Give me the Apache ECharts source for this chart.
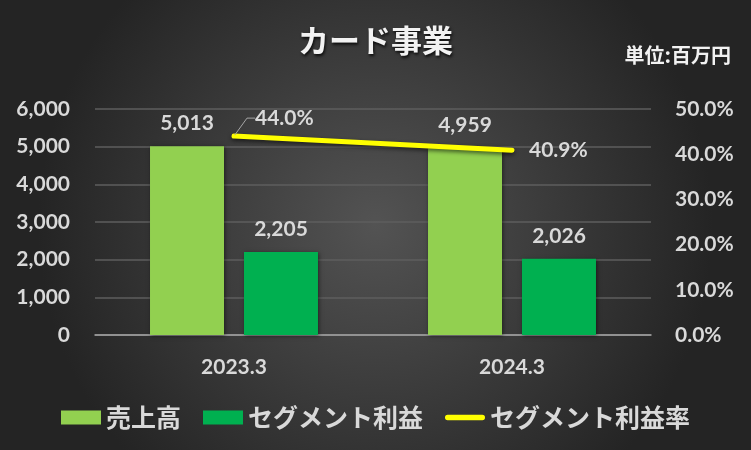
<!DOCTYPE html>
<html><head><meta charset="utf-8">
<script src="https://cdn.jsdelivr.net/npm/echarts@6/dist/echarts.min.js"></script>
<style>html,body{margin:0;padding:0;}#c{width:751px;height:450px;}</style>
</head><body><div id="c"></div>
<script>
const categories = ['2023.3', '2024.3'];
const sales = [5013, 4959];
const profit = [2205, 2026];
const margin = [44.0, 40.9];
const leftTicks = [0, 1000, 2000, 3000, 4000, 5000, 6000];
const rightTicks = [0, 10, 20, 30, 40, 50];

const numFont = 'Lato, "Noto Sans", sans-serif';
const jpFont = '"Noto Sans CJK JP", sans-serif';
const txt = '#D9D9D9';

const marginLabel = {show: true, position: 'right', distance: 16, color: txt, fontFamily: numFont, fontSize: 21, fontWeight: 'bold',
  formatter: p => p.value.toFixed(1) + '%'};

const chart = echarts.init(document.getElementById('c'));
chart.setOption({
  backgroundColor: {
    type: 'radial', x: 0.5, y: 0.5, r: 0.75,
    colorStops: [{offset: 0, color: '#535353'}, {offset: 1, color: '#242424'}]
  },
  animation: false,
  title: [{
    text: 'カード事業', left: 'center', top: 20,
    textStyle: {color: '#F2F2F2', fontFamily: jpFont, fontSize: 31, fontWeight: 'bold',
      textShadowColor: 'rgba(0,0,0,0.8)', textShadowBlur: 3, textShadowOffsetX: 1, textShadowOffsetY: 2}
  }, {
    text: '単位:百万円', right: 15, top: 40,
    textStyle: {color: '#F2F2F2', fontFamily: jpFont, fontSize: 20, fontWeight: 'bold'}
  }],
  legend: {
    bottom: 15, left: 'center', itemGap: 22, itemWidth: 40, itemHeight: 14,
    textStyle: {color: txt, fontFamily: jpFont, fontSize: 25, fontWeight: 'bold'},
    data: [
      {name: '売上高', icon: 'rect'},
      {name: 'セグメント利益', icon: 'rect'},
      {name: 'セグメント利益率', icon: 'path://M3,0 H42 A3,3 0 0 1 42,6 H3 A3,3 0 0 1 3,0 Z', itemStyle: {color: '#FFFF00'}}
    ]
  },
  grid: {left: 95, right: 100, top: 109, bottom: 115, containLabel: false},
  xAxis: {
    type: 'category', data: categories,
    axisLine: {lineStyle: {color: '#A6A6A6', width: 1.5}},
    axisTick: {show: false},
    axisLabel: {color: txt, fontFamily: numFont, fontSize: 21, fontWeight: 'bold', margin: 22}
  },
  yAxis: [{
    type: 'value', min: 0, max: 6000, interval: 1000,
    axisLine: {show: false}, axisTick: {show: false},
    splitLine: {lineStyle: {color: '#5E5E5E', width: 1.5}},
    axisLabel: {color: txt, fontFamily: numFont, fontSize: 21, fontWeight: 'bold', margin: 25,
      formatter: v => v.toLocaleString('en-US')}
  }, {
    type: 'value', min: 0, max: 50, interval: 10,
    axisLine: {show: false}, axisTick: {show: false}, splitLine: {show: false},
    axisLabel: {color: txt, fontFamily: numFont, fontSize: 21, fontWeight: 'bold', margin: 24,
      formatter: v => v.toFixed(1) + '%'}
  }],
  series: [{
    name: '売上高', type: 'bar', data: sales, barWidth: 74, barGap: '27%',
    itemStyle: {color: '#92D050', shadowColor: 'rgba(0,0,0,0.5)', shadowBlur: 4, shadowOffsetX: 1, shadowOffsetY: 1},
    label: {show: true, position: 'top', distance: 12, color: txt, fontFamily: numFont, fontSize: 21, fontWeight: 'bold',
      formatter: p => p.value.toLocaleString('en-US')}
  }, {
    name: 'セグメント利益', type: 'bar', data: profit, barWidth: 74,
    itemStyle: {color: '#00B050', shadowColor: 'rgba(0,0,0,0.5)', shadowBlur: 4, shadowOffsetX: 1, shadowOffsetY: 1},
    label: {show: true, position: 'top', distance: 12, color: txt, fontFamily: numFont, fontSize: 21, fontWeight: 'bold',
      formatter: p => p.value.toLocaleString('en-US')}
  }, {
    name: 'セグメント利益率', type: 'line', yAxisIndex: 1, data: margin,
    symbol: 'none', color: '#FFFF00',
    lineStyle: {color: '#FFFF00', width: 5, cap: 'round', shadowColor: 'rgba(0,0,0,0.6)', shadowBlur: 4, shadowOffsetY: 2}
  }, {
    name: 'label1', type: 'line', yAxisIndex: 1, silent: true,
    data: margin.map((v, i) => i === 0 ? v : null),
    symbol: 'circle', symbolSize: 2, itemStyle: {color: '#FFFF00'}, lineStyle: {width: 0},
    label: marginLabel,
    labelLine: {show: true, length2: 8, lineStyle: {color: '#A6A6A6', width: 1}},
    labelLayout: {dx: 4, dy: -18}
  }, {
    name: 'label2', type: 'line', yAxisIndex: 1, silent: true,
    data: margin.map((v, i) => i === 1 ? v : null),
    symbol: 'circle', symbolSize: 2, itemStyle: {color: '#FFFF00'}, lineStyle: {width: 0},
    label: marginLabel,
    labelLine: {show: false}
  }]
});
</script></body></html>
